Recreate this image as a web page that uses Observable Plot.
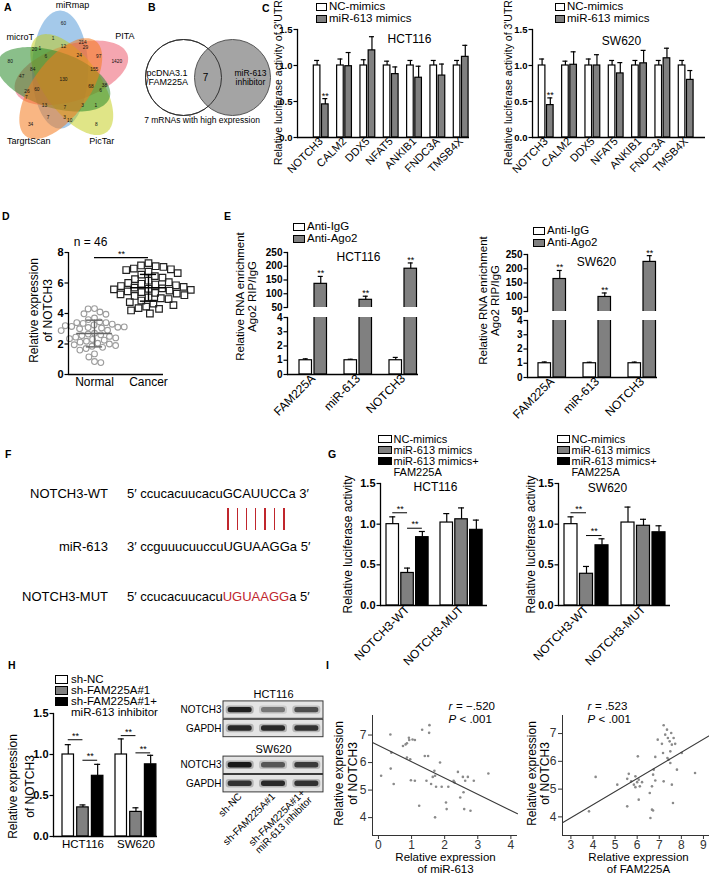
<!DOCTYPE html>
<html><head><meta charset="utf-8">
<script src="https://cdn.jsdelivr.net/npm/d3@7"></script>
<script src="https://cdn.jsdelivr.net/npm/@observablehq/plot@0.6"></script>
<style>
body{margin:0;background:#fff;}
#root{position:relative;width:709px;height:874px;overflow:hidden;background:#fff;font-family:"Liberation Sans",Arial,sans-serif;color:#000;}
</style></head><body><div id="root"></div>
<script>
// ---------------- DATA ----------------
// A: five-set Venn (sets listed clockwise from the top)
const vennSetNames = ["miRmap", "PITA", "PicTar", "TargrtScan", "microT"];
const vennSingles = [60, 1420, 8, 34, 80];          // only set i
const vennPairsAdjacent = [214, 38, 10, 7, 20];     // sets i, i+1
const vennPairsSkip = [1, 97, 1, 7, 47];            // sets i, i+2
const vennTriplesA = [29, 6, 3, 26, 1];             // sets i, i+1, i+3
const vennTriplesB = [12, 155, 3, 13, 84];          // sets i, i+2, i+3
const vennQuads = [24, 68, 7, 60, 6];               // all but set i+4
const vennAll = 130;
// B
const bSetLabels = ["pcDNA3.1\n/FAM225A", "miR-613\ninhibitor"];
const bOverlap = 7;
const bCaption = "7 mRNAs with high expression";
// C
const cGenes = ["NOTCH3", "CALM2", "DDX5", "NFAT5", "ANKIB1", "FNDC3A", "TMSB4X"];
const cSeries = ["NC-mimics", "miR-613 mimics"];
const cHctNC = [1, 1, 1, 1, 1, 1, 1];
const cHctNCerr = [0.07, 0.09, 0.08, 0.06, 0.07, 0.07, 0.07];
const cHctMiR = [0.46, 0.99, 1.21, 0.88, 0.83, 0.86, 1.12];
const cHctMiRerr = [0.08, 0.19, 0.19, 0.10, 0.16, 0.16, 0.16];
const cSwNC = [1, 1, 1, 1, 1, 1, 1];
const cSwNCerr = [0.09, 0.06, 0.09, 0.07, 0.07, 0.07, 0.07];
const cSwMiR = [0.45, 1.01, 1.00, 0.89, 1.03, 1.10, 0.80];
const cSwMiRerr = [0.10, 0.18, 0.15, 0.15, 0.18, 0.14, 0.13];
const cStars = [{cat: "NOTCH3", j: 1}];
// D
const dGroups = ["Normal", "Cancer"];
const dNormal = [4.32, 4.30, 4.10, 3.98, 3.95, 3.70, 3.60, 3.45, 3.40, 3.35, 3.30, 3.25, 3.40, 3.15, 3.10, 3.20, 3.12, 3.08, 3.05, 3.00,
  2.90, 2.88, 2.70, 2.65, 2.60, 2.55, 2.50, 2.45, 2.40, 2.35, 2.30, 2.25, 2.18, 2.12, 2.05, 2.00, 1.95, 1.90, 1.85, 1.78,
  1.70, 1.60, 1.35, 1.15, 0.85, 0.78];
const dCancer = [7.30, 7.15, 7.10, 7.05, 6.95, 6.90, 6.85, 6.75, 6.65, 6.55, 6.45, 6.35, 6.25, 6.15, 6.05, 6.00, 5.95, 5.90, 5.85, 5.80,
  5.75, 5.70, 5.65, 5.62, 5.58, 5.55, 5.50, 5.45, 5.40, 5.35, 5.30, 5.25, 5.20, 5.15, 5.05, 5.00, 4.95, 4.85, 4.75, 4.65,
  4.55, 4.45, 4.35, 4.30, 4.20, 4.00];
const dSig = {y: 7.67, text: "**"};
const dNote = "n = 46";
// E
const eTargets = ["FAM225A", "miR-613", "NOTCH3"];
const eSeries = ["Anti-IgG", "Anti-Ago2"];
const eHctIgG = [1, 1, 1], eHctIgGerr = [0.1, 0.07, 0.2];
const eHctAgo = [136, 78, 191], eHctAgoErr = [27, 13, 21];
const eSwIgG = [1, 1, 1], eSwIgGerr = [0.09, 0.07, 0.08];
const eSwAgo = [164, 101, 224], eSwAgoErr = [30, 14, 22];
// F
const fRows = [
  {label: "NOTCH3-WT", pre: "5\u2032 ccucacuucacu", core: "GCAUUCC", post: "a 3\u2032", red: false},
  {label: "miR-613", pre: "3\u2032 ccguuucuuccu", core: "UGUAAGG", post: "a 5\u2032", red: false},
  {label: "NOTCH3-MUT", pre: "5\u2032 ccucacuucacu", core: "UGUAAGG", post: "a 5\u2032", red: true}
];
// G
const gConstructs = ["NOTCH3-WT", "NOTCH3-MUT"];
const gSeries = ["NC-mimics", "miR-613 mimics", "miR-613 mimics+\nFAM225A"];
const gHctNC = [1.00, 1.02], gHctNCerr = [0.09, 0.11];
const gHctMiR = [0.40, 1.06], gHctMiRerr = [0.06, 0.14];
const gHctFam = [0.84, 0.93], gHctFamErr = [0.07, 0.12];
const gSwNC = [1.00, 1.02], gSwNCerr = [0.09, 0.19];
const gSwMiR = [0.39, 0.98], gSwMiRerr = [0.09, 0.08];
const gSwFam = [0.74, 0.90], gSwFamErr = [0.08, 0.08];
const gHctBrackets = [{cat: "NOTCH3-WT", from: 0, to: 1, y: 1.14}, {cat: "NOTCH3-WT", from: 1, to: 2, y: 0.95}];
const gSwBrackets = [{cat: "NOTCH3-WT", from: 0, to: 1, y: 1.14}, {cat: "NOTCH3-WT", from: 1, to: 2, y: 0.86}];
// H
const hCells = ["HCT116", "SW620"];
const hSeries = ["sh-NC", "sh-FAM225A#1", "sh-FAM225A#1+\nmiR-613 inhibitor"];
const hNC = [1.00, 1.00], hNCerr = [0.12, 0.19];
const hSh = [0.355, 0.30], hShErr = [0.03, 0.05];
const hShInh = [0.74, 0.88], hShInhErr = [0.14, 0.11];
const hBrackets = [{cat: "HCT116", from: 0, to: 1, y: 1.18}, {cat: "HCT116", from: 1, to: 2, y: 0.93},
  {cat: "SW620", from: 0, to: 1, y: 1.23}, {cat: "SW620", from: 1, to: 2, y: 1.02}];
const wbLanes = ["sh-NC", "sh-FAM225A#1", "sh-FAM225A#1+\nmiR-613 inhibitor"];
const wbHctNotch = [0.9, 0.45, 0.65], wbHctGapdh = [0.85, 0.85, 0.8];
const wbSwNotch = [0.95, 0.6, 0.75], wbSwGapdh = [0.8, 0.85, 0.8];
// I
const iMiR613 = [0.08,0.36,0.39,0.37,0.46,0.74,0.82,0.92,0.93,0.86,1.03,1.10,0.86,0.96,0.98,1.10,1.32,1.54,1.53,1.40,1.50,1.23,1.45,1.59,1.64,1.69,1.71,1.74,1.86,1.71,1.91,2.04,2.06,2.11,2.27,2.30,2.40,2.55,2.47,2.57,2.70,2.62,2.59,2.78,2.88,3.32];
const iNotchA = [5.52,7.02,6.36,5.78,5.22,6.60,6.66,6.90,6.82,6.70,6.84,6.82,6.18,6.12,5.36,5.34,7.19,7.36,7.08,6.24,6.24,4.43,5.34,5.22,5.48,5.70,5.52,5.12,6.00,4.01,5.12,4.55,4.31,5.12,5.34,5.28,5.66,5.48,4.73,4.92,5.48,5.34,4.31,4.25,5.34,5.60];
const iFam225a = [3.82,4.12,5.10,5.55,5.55,5.62,5.73,5.85,6.00,5.92,5.92,6.07,6.03,6.07,6.22,6.12,6.57,6.67,6.82,6.72,6.75,6.67,6.60,6.72,6.82,6.93,7.12,7.17,7.20,7.27,7.35,7.39,7.47,7.57,7.50,7.37,7.42,7.50,7.54,7.65,7.72,7.20,7.57,7.80,8.02,7.62,8.62];
const iNotchB = [4.20,5.44,5.16,4.38,5.37,5.55,5.28,5.16,5.25,5.07,5.46,5.34,6.18,4.62,5.25,5.10,4.86,5.10,5.31,5.52,5.70,4.26,3.96,4.23,6.16,6.78,6.63,6.30,7.30,6.96,7.14,6.84,6.72,6.60,6.36,6.12,6.06,5.94,7.02,6.84,6.63,5.28,5.16,5.70,6.30,4.50,5.58];
const iFitA = {intercept: 6.62, slope: -0.59}, iStatA = {r: "\u2212.520", p: ".001"};
const iFitB = {intercept: 2.556, slope: 0.471}, iStatB = {r: ".523", p: ".001"};

// ---------------- HELPERS ----------------
const FONT = '"Liberation Sans", Arial, sans-serif';
const root = document.getElementById("root");
const WHITE = "#ffffff", GRAY = "#808080", BLACK = "#000000";
function baseStyle(fs = 11) { return {fontFamily: FONT, fontSize: fs + "px", overflow: "visible", background: "transparent", color: "#000"}; }
function place(node, left, top) { node.style.position = "absolute"; node.style.left = left + "px"; node.style.top = top + "px"; root.appendChild(node); return node; }
function el(tag, css, text) { const e = document.createElement(tag); e.style.cssText = css || ""; if (text != null) e.textContent = text; return e; }
function safe(fn) { try { fn(); } catch (e) { console.error(e); } }
const MID = {textAnchor: "middle", lineAnchor: "middle"};

function legend(items, left, firstCenter, o) {
  const box = el("div", `position:absolute;left:${left}px;top:${firstCenter - o.rowH / 2}px;font-size:${o.font}px;line-height:${o.rowH}px;white-space:nowrap;`);
  items.forEach(it => it.label.split("\n").forEach((ln, k) => {
    const row = el("div", `height:${o.rowH}px;display:flex;align-items:center;`);
    const sw = el("span", `display:inline-block;flex:none;box-sizing:border-box;width:${o.sw}px;height:${o.sh}px;margin-right:${o.gap}px;border:${k ? 0 : 1.3}px solid #000;background:${k ? "transparent" : it.fill};`);
    row.append(sw, document.createTextNode(ln));
    box.append(row);
  }));
  root.append(box);
}

function barPlot(c) {
  const n = c.cats.length, ns = c.series.length;
  const bw = ns * c.barW + (ns - 1) * c.gap;
  const pi = 1 - bw / c.step;
  const L = c.x1 - c.x0;
  const po = Math.max(0, (L / c.step - n + pi) / 2);
  const spare = L - c.step * (n - pi);
  const al = spare > 0 ? Math.min(1, Math.max(0, (c.firstBar - c.x0) / spare)) : 0.5;
  const ml = 60, mr = 24, mt = 30, mb = c.mb ?? 80;
  const hh = c.yBot - c.yTop;
  const W = ml + L + mr, H = mt + hh + mb;
  const rows = [];
  c.cats.forEach((cat, i) => c.series.forEach((s, j) => rows.push({cat, j, v: c.vals[j][i], e: c.errs[j][i]})));
  const mids = c.series.map((s, j) => j * (c.barW + c.gap) + c.barW / 2);
  const cap = c.cap ?? 5;
  const clip = !!c.clip;
  const sw = 1.2;
  const marks = [];
  c.series.forEach((s, j) => {
    const dj = rows.filter(d => d.j === j);
    const off = j * (c.barW + c.gap);
    marks.push(Plot.barY(dj, {x: "cat", y1: 0, y2: "v", fill: s.fill, stroke: "#000", strokeWidth: sw, insetLeft: off, insetRight: bw - off - c.barW, clip}));
    marks.push(Plot.ruleX(dj, {x: "cat", y1: "v", y2: d => d.v + d.e, dx: mids[j] - bw / 2, stroke: "#000", strokeWidth: sw, clip}));
    marks.push(Plot.tickY(dj, {x: "cat", y: d => d.v + d.e, insetLeft: mids[j] - cap / 2, insetRight: bw - mids[j] - cap / 2, stroke: "#000", strokeWidth: sw, clip}));
    if (c.stars) {
      const ds = dj.filter(d => c.stars.some(t => t.cat === d.cat && t.j === j));
      if (ds.length) marks.push(Plot.text(ds, {x: "cat", y: d => d.v + d.e, text: () => "**", dx: mids[j] - bw / 2, dy: -3, fontSize: 9}));
    }
  });
  (c.brackets || []).forEach(b => {
    marks.push(Plot.tickY([b], {x: "cat", y: "y", insetLeft: mids[b.from], insetRight: bw - mids[b.to], stroke: "#000", strokeWidth: 1}));
    marks.push(Plot.text([b], {x: "cat", y: "y", text: () => "**", dx: (mids[b.from] + mids[b.to]) / 2 - bw / 2, dy: -4, fontSize: 9}));
  });
  marks.push(Plot.axisY({ticks: c.ticks, tickFormat: c.fmt, tickSize: 3.5, tickPadding: 1.5, strokeWidth: 1.2, fontWeight: "bold", fontSize: c.tickFont ?? 10.5, label: null}));
  marks.push(Plot.frame({anchor: "left", strokeWidth: 1.3}));
  if (c.baseline !== false) marks.push(Plot.ruleY([c.yDomain[0]], {strokeWidth: 1.3}));
  if (c.xAxis !== false) marks.push(Plot.axisX({tickRotate: c.xRotate ?? -45, tickSize: 0, tickPadding: c.xPad ?? 2, fontSize: c.xFont ?? 11, label: null}));
  if (c.ylabel) marks.push(Plot.text([c.ylabel], {...MID, frameAnchor: "left", rotate: -90, dx: c.ylx - c.x0, dy: c.yly - (c.yTop + c.yBot) / 2, fontSize: c.ylFont ?? 11, lineHeight: c.ylLH ?? 1.1}));
  if (c.title) marks.push(Plot.text([c.title], {...MID, frameAnchor: "top", dx: c.tx - (c.x0 + c.x1) / 2, dy: c.ty - c.yTop, fontSize: c.tFont ?? 12}));
  const svg = Plot.plot({
    width: W, height: H, marginLeft: ml, marginRight: mr, marginTop: mt, marginBottom: mb,
    style: baseStyle(11),
    x: Object.assign({type: "band", domain: c.cats, range: [ml, ml + L], paddingInner: pi, paddingOuter: po, align: al, round: false}, c.xAxis === false ? {axis: null} : {}),
    y: {type: "linear", domain: c.yDomain, range: [mt + hh, mt]},
    marks
  });
  return place(svg, c.x0 - ml, c.yTop - mt);
}

// ---------------- PANEL A ----------------
safe(() => {
  const lay = {cx: 63, cy: 78.5, a: 59, b: 28, shift: 10, skew: -20, tips: [-90, -18, 54, 126, 198]};
  const colors = ["#4a93d6", "#ec4d62", "#c2cb10", "#f47a1e", "#2a8a2a"];
  const opac = [0.5, 0.5, 0.5, 0.55, 0.55];
  const order = [0, 1, 2, 4, 3];
  const rad = Math.PI / 180;
  function ellipse(k) {
    const th = lay.tips[k] * rad, ph = (lay.tips[k] + lay.skew) * rad;
    const cx = lay.cx + lay.shift * Math.cos(ph), cy = lay.cy + lay.shift * Math.sin(ph);
    return d3.range(0, 360, 3).map(t => {
      const ex = lay.a * Math.cos(t * rad), ey = lay.b * Math.sin(t * rad);
      return {x: cx + ex * Math.cos(th) - ey * Math.sin(th), y: cy + ex * Math.sin(th) + ey * Math.cos(th)};
    });
  }
  const orbits = [
    {counts: vennSingles, r: 56, off: 0},
    {counts: vennPairsAdjacent, r: 41.5, off: 27.5},
    {counts: vennPairsSkip, r: 41.8, off: -14.5},
    {counts: vennTriplesA, r: 38.8, off: 34.5},
    {counts: vennTriplesB, r: 32.3, off: 0},
    {counts: vennQuads, r: 28.5, off: 33.5}
  ];
  const labels = [{x: lay.cx, y: lay.cy, t: String(vennAll)}];
  orbits.forEach(o => o.counts.forEach((v, k) => {
    const a = (lay.tips[k] + o.off) * rad;
    labels.push({x: lay.cx + o.r * Math.cos(a), y: lay.cy + o.r * Math.sin(a), t: String(v)});
  }));
  const catPos = [{r: 74, ang: -83}, {r: 75, ang: -35}, {r: 73, ang: 58.5}, {r: 71, ang: 119.4}, {r: 60, ang: -136}];
  const cats = vennSetNames.map((name, k) => ({name, x: lay.cx + catPos[k].r * Math.cos(catPos[k].ang * rad), y: lay.cy + catPos[k].r * Math.sin(catPos[k].ang * rad)}));
  const marks = order.map(k => Plot.line(ellipse(k), {x: "x", y: "y", fill: colors[k], fillOpacity: opac[k], stroke: "none", curve: "linear-closed"}));
  marks.push(Plot.text(labels, {x: "x", y: "y", text: "t", fontSize: 4.8, fill: "#111"}));
  marks.push(Plot.text(cats, {x: "x", y: "y", text: "name", fontSize: 9}));
  const svg = Plot.plot({width: 145, height: 150, margin: 0, style: baseStyle(9),
    x: {domain: [0, 145], range: [0, 145], axis: null}, y: {domain: [0, 150], range: [0, 150], axis: null}, marks});
  place(svg, 0, 0);
});

// ---------------- PANEL B ----------------
safe(() => {
  const svg = Plot.plot({width: 140, height: 86, margin: 0, style: baseStyle(9),
    x: {type: "point", domain: bSetLabels, range: [43, 92], padding: 0, axis: null},
    marks: [
      Plot.dot([bSetLabels[0]], {x: d => d, r: 38, fill: "white", stroke: "#333", strokeWidth: 1}),
      Plot.dot([bSetLabels[1]], {x: d => d, r: 38, fill: "#a4a4a4", stroke: "#555", strokeWidth: 1}),
      Plot.dot([bSetLabels[0]], {x: d => d, r: 38, fill: "none", stroke: "#333", strokeWidth: 1}),
      Plot.text([bSetLabels[0]], {x: d => d, dx: -16.5, fontSize: 9, lineHeight: 1.05}),
      Plot.text([bSetLabels[1]], {x: d => d, dx: 18, fontSize: 8.5, lineHeight: 1.1}),
      Plot.text([String(bOverlap)], {x: () => bSetLabels[0], dx: 22, fontSize: 10}),
      Plot.text([bCaption], {...MID, frameAnchor: "bottom", dx: -8.5, fontSize: 8.5})
    ]});
  place(svg, 140, 34);
});

// ---------------- PANEL C ----------------
safe(() => {
  const series = [{name: cSeries[0], fill: WHITE}, {name: cSeries[1], fill: GRAY}];
  const common = {cats: cGenes, series, step: 23.33, barW: 6.6, gap: 1.6, yDomain: [0, 1.5], yTop: 29, yBot: 137,
    ticks: [0, 0.5, 1, 1.5], fmt: ".1f", stars: cStars, ylabel: "Relative luciferase activity of 3'UTR", yly: 82, ylFont: 10.5, xFont: 11, tickFont: 9.5};
  barPlot({...common, vals: [cHctNC, cHctMiR], errs: [cHctNCerr, cHctMiRerr], x0: 297, x1: 469, firstBar: 313.3, ylx: 277.5, title: "HCT116", tx: 409, ty: 39});
  barPlot({...common, vals: [cSwNC, cSwMiR], errs: [cSwNCerr, cSwMiRerr], x0: 532, x1: 705, firstBar: 538.3, ylx: 508, title: "SW620", tx: 621, ty: 41});
  const items = series.map(s => ({label: s.name, fill: s.fill}));
  legend(items, 316, 7, {font: 11.5, rowH: 11.5, sw: 11, sh: 8, gap: 2});
  legend(items, 555, 7, {font: 11.5, rowH: 11.5, sw: 10, sh: 8, gap: 2});
});

// ---------------- PANEL D ----------------
safe(() => {
  const x0 = 68, x1 = 163, yTop = 252, yBot = 374, mt = 25, mb = 30, hh = yBot - yTop;
  const rows = [...dNormal.map(v => ({g: dGroups[0], v})), ...dCancer.map(v => ({g: dGroups[1], v}))];
  const dots = Plot.plot({width: 108, height: mt + hh + mb, marginLeft: 0, marginRight: 0, marginTop: mt, marginBottom: mb,
    style: baseStyle(11),
    fx: {domain: dGroups, padding: 0, axis: null},
    y: {domain: [0, 8], range: [mt + hh, mt], axis: null},
    marks: [
      Plot.dot(rows.filter(d => d.g === dGroups[0]), Plot.dodgeX({anchor: "middle", padding: 0.6}, {fx: "g", y: "v", r: 2.9, stroke: "#9c9c9c", strokeWidth: 1.1, fill: "none"})),
      Plot.dot(rows.filter(d => d.g === dGroups[1]), Plot.dodgeX({anchor: "middle", padding: 0.4}, {fx: "g", y: "v", r: 3.7, symbol: "square", stroke: "#222", strokeWidth: 1.2, fill: "none"}))
    ]});
  place(dots, 67, yTop - mt);
  const ml = 55, mr = 15, L = x1 - x0;
  const stats = [dNormal, dCancer].map((arr, i) => ({i, mean: d3.mean(arr), sd: d3.deviation(arr)}));
  const col = ["#666", "#000"];
  const marks = [];
  stats.forEach(s => {
    marks.push(Plot.ruleY([s], {y: "mean", x1: d => d.i - 0.33, x2: d => d.i + 0.33, stroke: col[s.i], strokeWidth: 1.6}));
    marks.push(Plot.ruleX([s], {x: "i", y1: d => d.mean - d.sd, y2: d => d.mean + d.sd, stroke: col[s.i], strokeWidth: 1.4}));
    marks.push(Plot.ruleY([s], {y: d => d.mean + d.sd, x1: d => d.i - 0.15, x2: d => d.i + 0.15, stroke: col[s.i], strokeWidth: 1.4}));
    marks.push(Plot.ruleY([s], {y: d => d.mean - d.sd, x1: d => d.i - 0.15, x2: d => d.i + 0.15, stroke: col[s.i], strokeWidth: 1.4}));
  });
  marks.push(Plot.ruleY([dSig], {y: "y", x1: 0, x2: 1, strokeWidth: 1.2}));
  marks.push(Plot.text([dSig], {x: 0.5, y: "y", text: "text", dy: -3, fontSize: 9}));
  marks.push(Plot.text([dNote], {...MID, frameAnchor: "top", dx: 90 - (x0 + x1) / 2, dy: 242 - yTop, fontSize: 12}));
  marks.push(Plot.axisY({ticks: [0, 2, 4, 6, 8], tickSize: 3.5, tickPadding: 1.5, strokeWidth: 1.2, fontWeight: "bold", fontSize: 11, label: null}));
  marks.push(Plot.ruleX([-0.4815], {strokeWidth: 1.3}));
  marks.push(Plot.ruleY([0], {strokeWidth: 1.3}));
  marks.push(Plot.axisX({ticks: [0, 1], tickFormat: i => dGroups[i], tickSize: 0, tickPadding: 3, fontSize: 12, label: null}));
  marks.push(Plot.text(["Relative expression\nof NOTCH3"], {...MID, frameAnchor: "left", rotate: -90, dx: 40 - x0, dy: 310 - (yTop + yBot) / 2, fontSize: 12, lineHeight: 1.17}));
  const ax = Plot.plot({width: ml + L + mr, height: mt + hh + mb, marginLeft: ml, marginRight: mr, marginTop: mt, marginBottom: mb,
    style: baseStyle(11),
    x: {domain: [-0.4815, 1.278], range: [ml, ml + L]},
    y: {domain: [0, 8], range: [mt + hh, mt]},
    marks});
  place(ax, x0 - ml, yTop - mt);
});

// ---------------- PANEL E ----------------
safe(() => {
  const series = [{name: eSeries[0], fill: WHITE}, {name: eSeries[1], fill: GRAY}];
  const stars = eTargets.map(cat => ({cat, j: 1}));
  const geo = {cats: eTargets, series, step: 45, barW: 12.5, gap: 2.5, clip: true, tickFont: 10, xFont: 12};
  const up = {yDomain: [50, 250], ticks: [50, 100, 150, 200, 250], fmt: "d", xAxis: false, baseline: false, stars, mb: 10};
  const lo = {yDomain: [0, 4], ticks: [0, 1, 2, 3, 4], fmt: "d", ylabel: "Relative RNA enrichment\nAgo2 RIP/IgG", ylFont: 11.5, ylLH: 1.05};
  const hct = {...geo, vals: [eHctIgG, eHctAgo], errs: [eHctIgGerr, eHctAgoErr], x0: 287, x1: 418, firstBar: 299};
  const sw = {...geo, vals: [eSwIgG, eSwAgo], errs: [eSwIgGerr, eSwAgoErr], x0: 527, x1: 657, firstBar: 538};
  barPlot({...hct, ...up, yTop: 252, yBot: 307, title: "HCT116", tx: 358, ty: 257});
  barPlot({...hct, ...lo, yTop: 317, yBot: 374, ylx: 246, yly: 296});
  barPlot({...sw, ...up, yTop: 254, yBot: 311, title: "SW620", tx: 596, ty: 262});
  barPlot({...sw, ...lo, yTop: 320, yBot: 377, ylx: 489, yly: 300});
  const items = series.map(s => ({label: s.name, fill: s.fill}));
  legend(items, 293, 227, {font: 11.5, rowH: 11.5, sw: 12, sh: 8, gap: 2});
  legend(items, 533, 231, {font: 11.5, rowH: 11.5, sw: 12, sh: 8, gap: 2});
});

// ---------------- PANEL F ----------------
safe(() => {
  const ys = [494, 547, 597];
  fRows.forEach((r, k) => {
    root.append(el("div", `position:absolute;left:0;width:108px;text-align:right;top:${ys[k] - 8}px;font-size:13px;line-height:16px;white-space:nowrap;`, r.label));
    const seq = el("div", `position:absolute;left:127px;top:${ys[k] - 8}px;font-size:13px;line-height:16px;white-space:pre;`);
    seq.append(r.pre, el("span", r.red ? "color:#c0262d" : "", r.core), r.post);
    root.append(seq);
  });
  const pair = el("div", "position:absolute;left:127px;top:508px;font-size:13px;line-height:22px;height:22px;color:transparent;white-space:pre;");
  pair.append(fRows[0].pre);
  for (const ch of fRows[0].core) {
    const s = el("span", "position:relative;", ch);
    s.append(el("span", "position:absolute;left:50%;top:-3px;width:1.6px;margin-left:-0.8px;height:22px;background:#c0262d;"));
    pair.append(s);
  }
  root.append(pair);
});

// ---------------- PANEL G ----------------
safe(() => {
  const series = [{name: gSeries[0], fill: WHITE}, {name: gSeries[1], fill: GRAY}, {name: gSeries[2], fill: BLACK}];
  const common = {cats: gConstructs, series, yDomain: [0, 1.5], yTop: 483, yBot: 605, ticks: [0, 0.5, 1, 1.5], fmt: ".1f",
    ylabel: "Relative luciferase activity", yly: 544, ylFont: 12, xFont: 12, tickFont: 11, cap: 6};
  barPlot({...common, vals: [gHctNC, gHctMiR, gHctFam], errs: [gHctNCerr, gHctMiRerr, gHctFamErr], x0: 380, x1: 487, firstBar: 386, step: 54, barW: 12.5, gap: 2.3,
    brackets: gHctBrackets, ylx: 347, title: "HCT116", tx: 435, ty: 487});
  barPlot({...common, vals: [gSwNC, gSwMiR, gSwFam], errs: [gSwNCerr, gSwMiRerr, gSwFamErr], x0: 558, x1: 670, firstBar: 564, step: 57, barW: 13, gap: 2.5,
    brackets: gSwBrackets, ylx: 530, title: "SW620", tx: 607, ty: 488});
  const items = series.map(s => ({label: s.name, fill: s.fill}));
  legend(items, 378, 439, {font: 11, rowH: 11, sw: 14, sh: 8.5, gap: 1.5});
  legend(items, 557, 439, {font: 11, rowH: 11, sw: 13, sh: 8.5, gap: 1.5});
});

// ---------------- PANEL H ----------------
safe(() => {
  const series = [{name: hSeries[0], fill: WHITE}, {name: hSeries[1], fill: GRAY}, {name: hSeries[2], fill: BLACK}];
  barPlot({cats: hCells, series, vals: [hNC, hSh, hShInh], errs: [hNCerr, hShErr, hShInhErr], x0: 53, x1: 157, firstBar: 62, step: 53, barW: 11.5, gap: 3.2,
    yDomain: [0, 1.5], yTop: 713, yBot: 836, ticks: [0, 0.5, 1, 1.5], fmt: ".1f", brackets: hBrackets, cap: 6,
    xRotate: 0, xPad: 3, xFont: 11.5, tickFont: 11, ylabel: "Relative expression\nof NOTCH3", ylx: 20, yly: 786, ylFont: 12, ylLH: 1.4});
  legend(series.map(s => ({label: s.name, fill: s.fill})), 55, 679, {font: 11.5, rowH: 11, sw: 13, sh: 9, gap: 3});
  // western blot
  const rowsDom = ["HCT116", "HCT116|NOTCH3", "HCT116|GAPDH", "SW620", "SW620|NOTCH3", "SW620|GAPDH"];
  const boxRows = rowsDom.filter(r => r.includes("|"));
  const inten = {"HCT116|NOTCH3": wbHctNotch, "HCT116|GAPDH": wbHctGapdh, "SW620|NOTCH3": wbSwNotch, "SW620|GAPDH": wbSwGapdh};
  const bands = boxRows.flatMap(row => inten[row].map((i, k) => ({row, lane: k + 1, i})));
  const ml = 60, mr = 10, mt = 10, mb = 95, L = 100, hh = 18.4 * 6;
  const svg = Plot.plot({width: ml + L + mr, height: mt + hh + mb, marginLeft: ml, marginRight: mr, marginTop: mt, marginBottom: mb,
    style: baseStyle(10), opacity: {type: "identity"},
    x: {domain: [0.5, 3.5], range: [ml, ml + L]},
    y: {type: "band", domain: rowsDom, range: [mt, mt + hh], padding: 0, round: false},
    marks: [
      Plot.barX(boxRows, {y: d => d, x1: 0.5, x2: 3.5, fill: "#e4e4e4", stroke: "#3a3a3a", strokeWidth: 1, insetTop: 0.5, insetBottom: 0.5}),
      Plot.barX(bands, {y: "row", x1: d => d.lane - 0.42, x2: d => d.lane + 0.42, fill: "#222", fillOpacity: d => d.i * 0.3, insetTop: 5, insetBottom: 5, rx: 3}),
      Plot.barX(bands, {y: "row", x1: d => d.lane - 0.36, x2: d => d.lane + 0.36, fill: "#111", fillOpacity: "i", insetTop: 6.5, insetBottom: 6.5, rx: 2.5}),
      Plot.axisY({ticks: boxRows, tickFormat: r => r.split("|")[1], tickSize: 0, tickPadding: 2, fontSize: 10, label: null}),
      Plot.text(["HCT116", "SW620"], {y: d => d, x: 2, dy: 2.5, fontSize: 11}),
      Plot.axisX({ticks: [1, 2, 3], tickFormat: k => wbLanes[k - 1], tickRotate: -45, tickSize: 0, tickPadding: 2, fontSize: 10, label: null})
    ]});
  place(svg, 223 - ml, 681.6 - mt);
});

// ---------------- PANEL I ----------------
function scatterPlot(s) {
  const ml = 50, mr = 12, mt = 30, mb = 45;
  const L = s.x1 - s.x0, hh = s.yBot - s.yTop;
  const pts = s.xs.map((x, i) => ({x, y: s.ys[i]}));
  const fit = s.xDomain.map(x => ({x, y: s.fit.intercept + s.fit.slope * x}));
  const fa = {frameAnchor: "top-left", textAnchor: "start", lineAnchor: "middle", fontSize: 11.5};
  const svg = Plot.plot({width: ml + L + mr, height: mt + hh + mb, marginLeft: ml, marginRight: mr, marginTop: mt, marginBottom: mb,
    style: baseStyle(12),
    x: {domain: s.xDomain, range: [ml, ml + L]},
    y: {domain: s.yDomain, range: [mt + hh, mt]},
    marks: [
      Plot.dot(pts, {x: "x", y: "y", r: 1.3, fill: "#8a8a8a", stroke: "none"}),
      Plot.line(fit, {x: "x", y: "y", stroke: "#3a3a3a", strokeWidth: 1.1}),
      Plot.ruleX([s.xDomain[0]], {stroke: "#333", strokeWidth: 1}),
      Plot.ruleY([s.yDomain[0]], {stroke: "#333", strokeWidth: 1}),
      Plot.axisY({ticks: s.yTicks, tickFormat: "d", tickSize: 4, tickPadding: 2, fontSize: 12, color: "#333", label: null}),
      Plot.axisX({ticks: s.xTicks, tickFormat: "d", tickSize: 4, tickPadding: 1, fontSize: 12, color: "#333", label: null}),
      Plot.text(["Relative expression\nof NOTCH3"], {...MID, frameAnchor: "left", rotate: -90, dx: s.ylx - s.x0, dy: s.yly - (s.yTop + s.yBot) / 2, fontSize: 12, lineHeight: 1.15}),
      Plot.text([s.xlabel], {...MID, frameAnchor: "bottom", dx: s.xlx - (s.x0 + s.x1) / 2, dy: 27.5, fontSize: 11.5, lineHeight: 1.08}),
      Plot.text(["r"], {...fa, dx: s.sx - s.x0, dy: 706 - s.yTop, fontStyle: "italic"}),
      Plot.text(["= " + s.stat.r], {...fa, dx: s.sx - s.x0 + 7.5, dy: 706 - s.yTop}),
      Plot.text(["P"], {...fa, dx: s.sx - s.x0, dy: 718.5 - s.yTop, fontStyle: "italic"}),
      Plot.text(["< " + s.stat.p], {...fa, dx: s.sx - s.x0 + 11, dy: 718.5 - s.yTop})
    ]});
  place(svg, s.x0 - ml, s.yTop - mt);
}
safe(() => {
  scatterPlot({xs: iMiR613, ys: iNotchA, fit: iFitA, stat: iStatA, x0: 372, x1: 517, yTop: 715, yBot: 835,
    xDomain: [-0.18, 4.2], yDomain: [3.35, 7.71], xTicks: [0, 1, 2, 3, 4], yTicks: [4, 5, 6, 7],
    ylx: 345, yly: 773, xlabel: "Relative expression\nof miR-613", xlx: 445, sx: 448});
  scatterPlot({xs: iFam225a, ys: iNotchB, fit: iFitB, stat: iStatB, x0: 562, x1: 714, yTop: 715, yBot: 835,
    xDomain: [2.62, 9.5], yDomain: [3.33, 7.65], xTicks: [3, 4, 5, 6, 7, 8, 9], yTicks: [4, 5, 6, 7],
    ylx: 537.5, yly: 773, xlabel: "Relative expression\nof FAM225A", xlx: 638, sx: 587});
});

// ---------------- PANEL LETTERS ----------------
[["A", 4, 2], ["B", 148, 2], ["C", 262, 3], ["D", 2, 211], ["E", 224, 211], ["F", 5, 449], ["G", 328, 449], ["H", 8, 660], ["I", 326, 660]]
  .forEach(([t, x, y]) => root.append(el("div", `position:absolute;left:${x}px;top:${y}px;font-weight:bold;font-size:10.5px;line-height:11px;`, t)));
</script></body></html>
